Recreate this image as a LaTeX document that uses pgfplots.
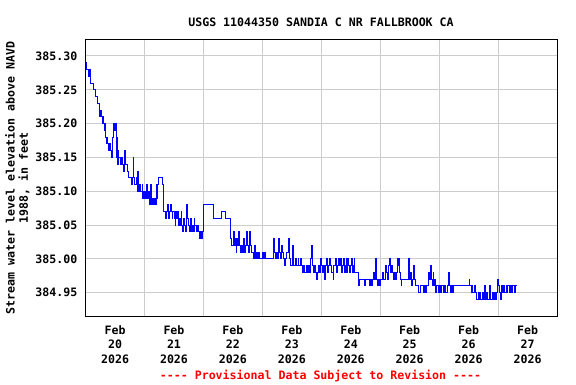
\documentclass[border=0pt]{standalone}
\usepackage{pgfplots}
\pgfplotsset{compat=1.18}
\usepackage{fontspec}
\setmainfont{DejaVu Sans Mono}
\setmonofont{DejaVu Sans Mono}
\newcommand\uf{\fontsize{11.6}{14.3}\selectfont\ttfamily\bfseries}
\newcommand\ufl{\fontsize{11.6}{13.2}\selectfont\ttfamily\bfseries}
\definecolor{gridgray}{RGB}{204,204,204}
\pgfplotstableread{
h v
0.0 385.29
0.5 385.28
1.0 385.27
1.5 385.28
2.1 385.26
3.1 385.25
4.1 385.24
4.8 385.23
5.5 385.22
5.8 385.21
6.0 385.22
6.3 385.21
6.8 385.20
7.2 385.21
7.4 385.20
7.6 385.19
7.8 385.20
8.0 385.18
8.5 385.17
8.8 385.18
9.0 385.17
9.3 385.16
9.5 385.17
10.2 385.16
10.5 385.15
10.8 385.16
11.0 385.18
11.3 385.19
11.5 385.20
11.7 385.19
12.0 385.20
12.3 385.19
12.5 385.20
12.7 385.15
12.9 385.18
13.1 385.14
13.3 385.16
13.5 385.15
14.0 385.14
14.5 385.15
15.0 385.14
15.3 385.13
15.6 385.14
16.0 385.16
16.3 385.14
17.0 385.13
17.5 385.12
18.6 385.11
19.0 385.12
19.3 385.15
19.6 385.12
20.0 385.11
20.5 385.12
21.0 385.10
21.3 385.13
21.5 385.10
22.0 385.11
22.5 385.10
23.0 385.11
23.3 385.09
23.6 385.10
24.0 385.09
24.3 385.10
24.6 385.09
24.9 385.11
25.1 385.09
25.5 385.10
25.8 385.08
26.3 385.09
26.5 385.11
26.7 385.08
27.2 385.09
27.5 385.08
28.0 385.09
28.5 385.08
28.8 385.11
29.0 385.09
29.3 385.11
29.6 385.12
31.3 385.11
31.8 385.07
32.3 385.06
32.8 385.07
33.3 385.08
33.6 385.06
34.0 385.07
34.4 385.08
34.8 385.07
35.2 385.06
35.5 385.07
36.0 385.06
36.4 385.05
36.7 385.07
37.0 385.06
37.5 385.07
37.8 385.05
38.1 385.06
38.6 385.05
38.9 385.07
39.2 385.05
39.5 385.04
39.8 385.06
40.2 385.05
40.6 385.04
40.9 385.06
41.2 385.08
41.5 385.06
41.9 385.05
42.3 385.04
42.7 385.06
43.0 385.04
43.4 385.05
43.8 385.04
44.2 385.06
44.5 385.05
45.0 385.04
45.5 385.05
46.0 385.04
46.4 385.03
46.8 385.04
47.2 385.03
47.6 385.04
47.8 385.05
48.0 385.08
52.0 385.06
55.2 385.07
57.1 385.06
59.0 385.03
59.5 385.02
60.0 385.03
60.4 385.04
60.7 385.02
61.0 385.03
61.3 385.01
61.6 385.03
62.0 385.02
62.4 385.04
62.7 385.02
63.0 385.01
63.5 385.02
64.0 385.01
64.3 385.03
64.6 385.01
65.0 385.02
65.4 385.04
65.7 385.02
66.2 385.01
66.6 385.02
66.9 385.04
67.2 385.02
67.6 385.01
68.5 385.00
68.9 385.02
69.2 385.00
69.6 385.01
70.0 385.00
70.4 385.01
70.8 385.00
72.0 385.01
72.4 385.00
72.8 385.01
73.1 385.00
75.6 385.00
76.5 385.03
76.8 385.01
77.2 385.00
77.6 385.01
78.0 385.00
78.4 385.01
78.6 385.03
78.9 385.01
79.3 385.00
79.7 385.02
80.0 385.01
80.4 385.00
80.9 384.99
81.2 385.00
81.7 385.01
82.6 385.03
83.0 385.01
83.2 385.00
83.6 384.99
84.1 385.00
84.4 385.02
84.7 384.99
85.5 385.00
85.8 384.99
86.5 385.00
86.8 384.99
87.5 385.00
87.8 384.99
88.3 384.98
88.8 384.99
89.3 384.98
89.8 384.99
90.2 384.98
90.7 384.99
91.2 384.98
91.7 385.00
92.0 385.02
92.3 384.99
92.7 384.98
93.2 384.99
93.6 384.98
94.0 384.97
94.3 384.98
94.8 384.99
95.3 384.98
95.8 385.00
96.2 384.99
96.6 384.98
97.0 384.99
97.4 384.97
97.7 384.99
98.2 385.00
98.6 384.98
99.0 384.99
99.4 385.00
99.8 384.99
100.3 384.98
100.8 384.97
101.1 384.99
101.6 385.00
102.0 384.98
102.4 384.99
102.8 385.00
103.2 384.99
103.6 385.00
104.0 384.98
104.5 384.99
105.0 385.00
105.4 384.98
105.8 384.99
106.2 385.00
106.4 384.98
106.8 385.00
107.1 384.99
107.5 384.98
107.9 384.99
108.2 385.00
108.5 384.98
108.9 384.99
109.3 385.00
109.6 384.98
111.0 384.97
111.3 384.96
111.6 384.97
113.5 384.96
113.9 384.97
115.6 384.96
116.0 384.97
116.4 384.96
116.8 384.97
117.3 384.98
117.8 384.97
118.0 385.00
118.5 384.97
118.8 384.96
119.2 384.97
119.6 384.96
120.0 384.97
120.8 384.98
121.1 384.97
122.0 384.98
122.3 384.99
122.6 384.98
123.0 384.97
123.5 384.99
123.8 385.00
124.1 384.98
124.5 384.99
124.8 384.98
125.2 384.97
125.6 384.98
126.0 384.97
126.4 384.98
126.8 385.00
127.1 384.99
127.4 385.00
127.7 384.98
128.1 384.97
128.5 384.96
128.8 384.97
131.6 385.00
131.9 384.97
132.3 384.98
132.7 384.96
133.0 384.97
133.4 384.99
133.8 384.97
134.3 384.96
135.6 384.95
136.2 384.96
137.5 384.95
137.9 384.96
138.6 384.95
139.0 384.96
139.6 384.98
140.0 384.97
140.5 384.99
140.8 384.97
141.1 384.96
141.5 384.98
141.8 384.96
142.2 384.97
142.5 384.95
143.0 384.96
143.5 384.95
144.0 384.96
144.6 384.95
145.0 384.96
145.6 384.95
146.2 384.96
146.7 384.95
147.2 384.96
147.6 384.98
148.0 384.96
148.6 384.95
149.0 384.96
149.4 384.95
149.8 384.96
156.2 384.97
156.5 384.96
157.0 384.95
157.3 384.96
157.6 384.95
158.3 384.96
158.6 384.95
159.3 384.94
159.8 384.95
160.2 384.94
160.6 384.95
161.0 384.94
161.5 384.95
162.0 384.94
162.5 384.96
162.8 384.94
163.3 384.95
163.7 384.94
164.6 384.96
164.9 384.94
165.5 384.95
166.0 384.94
166.5 384.95
167.0 384.94
167.5 384.95
167.9 384.97
168.2 384.96
168.6 384.95
169.0 384.94
169.3 384.96
169.8 384.95
170.3 384.96
170.7 384.95
171.2 384.96
171.6 384.95
172.0 384.96
172.5 384.95
173.0 384.96
173.5 384.95
174.0 384.96
174.5 384.95
175.0 384.96
175.8 384.96
}\gage
\begin{document}
\begin{tikzpicture}[x=1pt,y=1pt]
\useasboundingbox (0,0) rectangle (576,384);
\begin{axis}[
  at={(85.6pt,67.4pt)}, anchor=south west,
  width=471.4pt, height=277.3pt, scale only axis,
  xmin=0, xmax=192, ymin=384.9145, ymax=385.3247,
  xtick={12,36,60,84,108,132,156,180},
  xticklabels={{Feb\\20\\2026},{Feb\\21\\2026},{Feb\\22\\2026},{Feb\\23\\2026},{Feb\\24\\2026},{Feb\\25\\2026},{Feb\\26\\2026},{Feb\\27\\2026}},
  minor xtick={24,48,72,96,120,144,168},
  ytick={384.95,385.00,385.05,385.10,385.15,385.20,385.25,385.30},
  yticklabels={384.95,385.00,385.05,385.10,385.15,385.20,385.25,385.30},
  xmajorgrids=false, xminorgrids=true, ymajorgrids=true,
  grid style={draw=gridgray, line width=1pt},
  minor grid style={draw=gridgray, line width=1pt},
  major tick length=0pt, minor tick length=0pt,
  tick style={draw=none},
  axis line style={black, line width=1pt},
  xticklabel style={font=\uf, align=center, anchor=north, inner sep=0pt, yshift=-9pt},
  yticklabel style={font=\uf, anchor=east, inner sep=0pt, xshift=-8pt},
  ylabel={Stream water level elevation above NAVD\\1988, in feet},
  ylabel style={font=\ufl, align=center, at={(axis description cs:-0.1447,0.5)}, anchor=center},
  clip=true,
]
\addplot[const plot, draw={rgb,255:red,0;green,0;blue,255}, line width=0.8pt] table[x=h, y=v] {\gage};
\end{axis}
\node[font=\uf, anchor=base] at (321,357.4) {USGS 11044350 SANDIA C NR FALLBROOK CA};
\node[font=\uf, anchor=base, text=red] at (320.5,4.5) {---- Provisional Data Subject to Revision ----};
\end{tikzpicture}
\end{document}
